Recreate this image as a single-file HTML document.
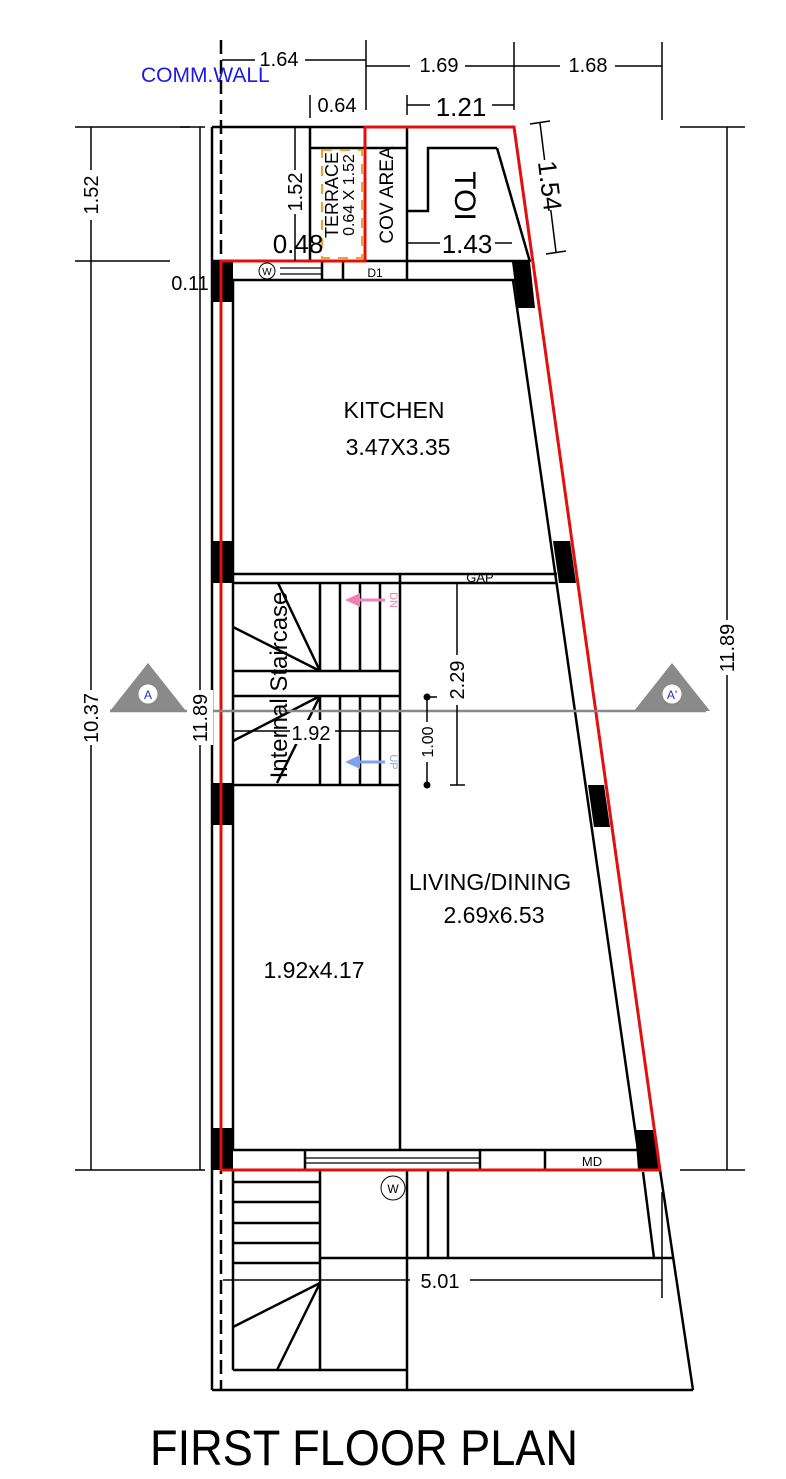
<!DOCTYPE html>
<html><head><meta charset="utf-8"><style>
html,body{margin:0;padding:0;background:#fff}
svg{display:block}
text{font-family:"Liberation Sans",sans-serif}
</style></head><body>
<svg width="786" height="1479" viewBox="0 0 786 1479" xmlns="http://www.w3.org/2000/svg">
<g stroke="#000" stroke-width="2.5" fill="none">
<!-- outer left -->
<line x1="212" y1="127" x2="212" y2="1390"/>
<line x1="212" y1="127" x2="514" y2="127"/>
<line x1="212" y1="261" x2="530" y2="261"/>
<line x1="233" y1="280" x2="515" y2="280"/>
<line x1="233" y1="280" x2="233" y2="1150"/>
<!-- right inner slanted -->
<line x1="513" y1="280" x2="638" y2="1150"/>
<line x1="497" y1="148" x2="530" y2="262"/>
<!-- top area -->
<line x1="310" y1="127" x2="310" y2="261"/>
<line x1="310" y1="148" x2="407" y2="148"/>
<line x1="407" y1="127" x2="407" y2="261"/>
<polyline points="407,211 428,211 428,148 497,148"/>
<line x1="322" y1="261" x2="322" y2="280"/>
<line x1="343" y1="261" x2="343" y2="280"/>
<line x1="407" y1="261" x2="407" y2="280"/>
<!-- kitchen/stair divider -->
<line x1="233" y1="574" x2="557" y2="574"/>
<line x1="233" y1="583" x2="557" y2="583"/>
<line x1="400" y1="574" x2="400" y2="1150"/>
<line x1="233" y1="785" x2="400" y2="785"/>
<!-- stairs -->
<line x1="320" y1="583" x2="320" y2="671"/>
<line x1="340" y1="583" x2="340" y2="671"/>
<line x1="360" y1="583" x2="360" y2="671"/>
<line x1="380" y1="583" x2="380" y2="671"/>
<line x1="233" y1="671" x2="400" y2="671"/>
<line x1="233" y1="696" x2="400" y2="696"/>
<line x1="320" y1="696" x2="320" y2="785"/>
<line x1="340" y1="696" x2="340" y2="785"/>
<line x1="360" y1="696" x2="360" y2="785"/>
<line x1="380" y1="696" x2="380" y2="785"/>
<line x1="320" y1="671" x2="278" y2="583"/>
<line x1="320" y1="671" x2="233" y2="627"/>
<line x1="320" y1="696" x2="233" y2="741"/>
<line x1="320" y1="696" x2="277" y2="783"/>
<!-- bottom walls -->
<line x1="233" y1="1150" x2="640" y2="1150"/>
<line x1="305" y1="1150" x2="305" y2="1170"/>
<line x1="480" y1="1150" x2="480" y2="1170"/>
<line x1="545" y1="1150" x2="545" y2="1170"/>
<!-- lower area -->
<line x1="233" y1="1170" x2="233" y2="1370"/>
<line x1="320" y1="1170" x2="320" y2="1370"/>
<line x1="233" y1="1370" x2="407" y2="1370"/>
<line x1="407" y1="1170" x2="407" y2="1390"/>
<line x1="233" y1="1182" x2="320" y2="1182"/>
<line x1="233" y1="1202" x2="320" y2="1202"/>
<line x1="233" y1="1223" x2="320" y2="1223"/>
<line x1="233" y1="1243" x2="320" y2="1243"/>
<line x1="233" y1="1263" x2="320" y2="1263"/>
<line x1="320" y1="1283" x2="233" y2="1327"/>
<line x1="320" y1="1283" x2="277" y2="1370"/>
<line x1="428" y1="1170" x2="428" y2="1258"/>
<line x1="448" y1="1170" x2="448" y2="1258"/>
<line x1="320" y1="1258" x2="673" y2="1258"/>
<line x1="643" y1="1172" x2="654" y2="1258"/>
<line x1="660" y1="1170" x2="693" y2="1390"/>
<line x1="212" y1="1390" x2="693" y2="1390"/>
</g>
<g stroke="#000" stroke-width="1.2">
<line x1="305" y1="1158" x2="480" y2="1158"/><line x1="305" y1="1163" x2="480" y2="1163"/>
<line x1="280" y1="268" x2="322" y2="268"/><line x1="280" y1="274" x2="322" y2="274"/>
</g>
<!-- comm wall dashed -->
<line x1="221" y1="40" x2="221" y2="1390" stroke="#000" stroke-width="2.5" stroke-dasharray="14,6"/>
<!-- pillars -->
<g fill="#000">
<rect x="212" y="262" width="21" height="40"/><rect x="212" y="541" width="21" height="42"/>
<rect x="212" y="783" width="21" height="42"/><rect x="212" y="1128" width="21" height="42"/>
<polygon points="512,262 530,262 535,308 518,308"/>
<polygon points="553,541 570,541 576,583 559,583"/>
<polygon points="588,785 604,785 610,827 594,827"/>
<polygon points="635,1130 655,1130 660,1170 638,1170"/>
</g>
<!-- orange dashed terrace -->
<rect x="322" y="150" width="40" height="108" fill="none" stroke="#f0a030" stroke-width="2" stroke-dasharray="10,8"/>
<!-- red outline -->
<polygon points="365,127 514,127 660,1170 221,1170 221,261 365,261" fill="none" stroke="#e01010" stroke-width="3"/>
<!-- section line -->
<line x1="110" y1="711" x2="706" y2="711" stroke="#888" stroke-width="2.5"/>
<polygon points="148,663 110,711 186,711" fill="#8a8a8a"/>
<circle cx="148" cy="694" r="10" fill="#fff" stroke="#888"/>
<text x="148" y="699" font-size="12" fill="#2030c0" text-anchor="middle">A</text>
<polygon points="672,663 634,711 710,711" fill="#8a8a8a"/>
<circle cx="672" cy="694" r="10" fill="#fff" stroke="#888"/>
<text x="672" y="699" font-size="12" fill="#2030c0" text-anchor="middle">A'</text>
<!-- dimension lines -->
<g stroke="#000" stroke-width="1.5" fill="none">
<line x1="222" y1="60" x2="366" y2="60"/><line x1="366" y1="40" x2="366" y2="110"/>
<line x1="366" y1="66" x2="514" y2="66"/><line x1="514" y1="42" x2="514" y2="110"/>
<line x1="514" y1="66" x2="662" y2="66"/><line x1="662" y1="42" x2="662" y2="120"/>
<line x1="310" y1="95" x2="310" y2="118"/>
<line x1="407" y1="95" x2="407" y2="115"/><line x1="407" y1="105" x2="514" y2="105"/>
<line x1="180" y1="127" x2="205" y2="127"/><line x1="680" y1="127" x2="745" y2="127"/>
<line x1="75" y1="127" x2="190" y2="127"/>
<line x1="75" y1="261" x2="170" y2="261"/>
<line x1="75" y1="1170" x2="205" y2="1170"/><line x1="680" y1="1170" x2="745" y2="1170"/>
<line x1="91" y1="127" x2="91" y2="1170"/>
<line x1="200" y1="127" x2="200" y2="1170"/>
<line x1="727" y1="127" x2="727" y2="1170"/>
<line x1="295" y1="127" x2="295" y2="261"/>
<line x1="540" y1="123" x2="556" y2="252"/>
<line x1="530" y1="124" x2="550" y2="121"/><line x1="546" y1="254" x2="566" y2="251"/>
<line x1="407" y1="243" x2="512" y2="243"/>
<line x1="233" y1="731" x2="400" y2="731"/>
<line x1="457" y1="583" x2="457" y2="785"/>
<line x1="450" y1="785" x2="465" y2="785"/>
<line x1="427" y1="697" x2="427" y2="785"/><line x1="427" y1="697" x2="437" y2="697"/>
<line x1="223" y1="1280" x2="662" y2="1280"/><line x1="662" y1="1192" x2="662" y2="1298"/>
</g>
<g fill="#fff">
<rect x="255" y="48" width="50" height="20"/><rect x="410" y="54" width="55" height="22"/>
<rect x="560" y="54" width="55" height="22"/><rect x="430" y="94" width="62" height="24"/>
<rect x="78" y="170" width="26" height="50"/><rect x="78" y="690" width="26" height="55"/>
<rect x="187" y="690" width="26" height="55"/><rect x="714" y="620" width="26" height="55"/>
<rect x="282" y="170" width="26" height="44"/><rect x="535" y="160" width="30" height="50"/>
<rect x="440" y="232" width="55" height="24"/><rect x="290" y="720" width="45" height="24"/>
<rect x="445" y="655" width="24" height="50"/><rect x="415" y="722" width="24" height="40"/>
<rect x="410" y="1265" width="60" height="28"/>
</g>
<circle cx="427" cy="697" r="3.5"/><circle cx="427" cy="785" r="3.5"/>
<g font-size="20" fill="#000">
<text x="279" y="66" text-anchor="middle">1.64</text>
<text x="439" y="72" text-anchor="middle">1.69</text>
<text x="588" y="72" text-anchor="middle">1.68</text>
<text x="337" y="112" text-anchor="middle">0.64</text>
<text x="461" y="116" text-anchor="middle" font-size="26">1.21</text>
<text x="467" y="253" text-anchor="middle" font-size="26">1.43</text>
<text x="298" y="253" text-anchor="middle" font-size="26">0.48</text>
<text x="190" y="290" text-anchor="middle">0.11</text>
<text transform="translate(98,195) rotate(-90)" text-anchor="middle">1.52</text>
<text transform="translate(98,718) rotate(-90)" text-anchor="middle">10.37</text>
<text transform="translate(207,718) rotate(-90)" text-anchor="middle">11.89</text>
<text transform="translate(734,648) rotate(-90)" text-anchor="middle">11.89</text>
<text transform="translate(302,192) rotate(-90)" text-anchor="middle">1.52</text>
<text transform="translate(541,187) rotate(83)" text-anchor="middle" font-size="26">1.54</text>
<text transform="translate(464,680) rotate(-90)" text-anchor="middle">2.29</text>
<text transform="translate(433,742) rotate(-90)" text-anchor="middle" font-size="16">1.00</text>
<text x="311" y="740" text-anchor="middle">1.92</text>
<text x="440" y="1288" text-anchor="middle">5.01</text>
<text transform="translate(338,195) rotate(-90)" text-anchor="middle" font-size="18">TERRACE</text>
<text transform="translate(354,195) rotate(-90)" text-anchor="middle" font-size="16">0.64 X 1.52</text>
<text transform="translate(393,195) rotate(-90)" text-anchor="middle" font-size="19">COV AREA</text>
<text transform="translate(455,196) rotate(90)" text-anchor="middle" font-size="30">TOI</text>
<text transform="translate(287,685) rotate(-90)" text-anchor="middle" font-size="24">Internal Staircase</text>
<text x="394" y="418" text-anchor="middle" font-size="23">KITCHEN</text>
<text x="398" y="455" text-anchor="middle" font-size="23">3.47X3.35</text>
<text x="490" y="890" text-anchor="middle" font-size="23">LIVING/DINING</text>
<text x="494" y="923" text-anchor="middle" font-size="23">2.69x6.53</text>
<text x="314" y="978" text-anchor="middle" font-size="23">1.92x4.17</text>
<text x="375" y="277" text-anchor="middle" font-size="12">D1</text>
<text x="592" y="1166" text-anchor="middle" font-size="13">MD</text>
<text x="480" y="582" text-anchor="middle" font-size="13">GAP</text>
</g>
<circle cx="267" cy="271" r="8" fill="none" stroke="#000"/><text x="267" y="275" font-size="10" text-anchor="middle">W</text>
<circle cx="393" cy="1188" r="12" fill="none" stroke="#000"/><text x="393" y="1193" font-size="12" text-anchor="middle">W</text>
<!-- DN/UP arrows -->
<line x1="385" y1="600" x2="355" y2="600" stroke="#f080b8" stroke-width="3"/>
<polygon points="345,600 360,593 360,607" fill="#f080b8"/>
<text transform="translate(390,600) rotate(90)" font-size="11" fill="#f080b8" text-anchor="middle">DN</text>
<line x1="385" y1="762" x2="355" y2="762" stroke="#80a0f0" stroke-width="3"/>
<polygon points="345,762 360,755 360,769" fill="#80a0f0"/>
<text transform="translate(390,762) rotate(90)" font-size="11" fill="#80a0f0" text-anchor="middle">UP</text>
<text x="141" y="82" font-size="21" fill="#1a1ae0">COMM.WALL</text>
<text x="150" y="1465" font-size="50" textLength="428" lengthAdjust="spacingAndGlyphs">FIRST FLOOR PLAN</text>
</svg>
</body></html>
